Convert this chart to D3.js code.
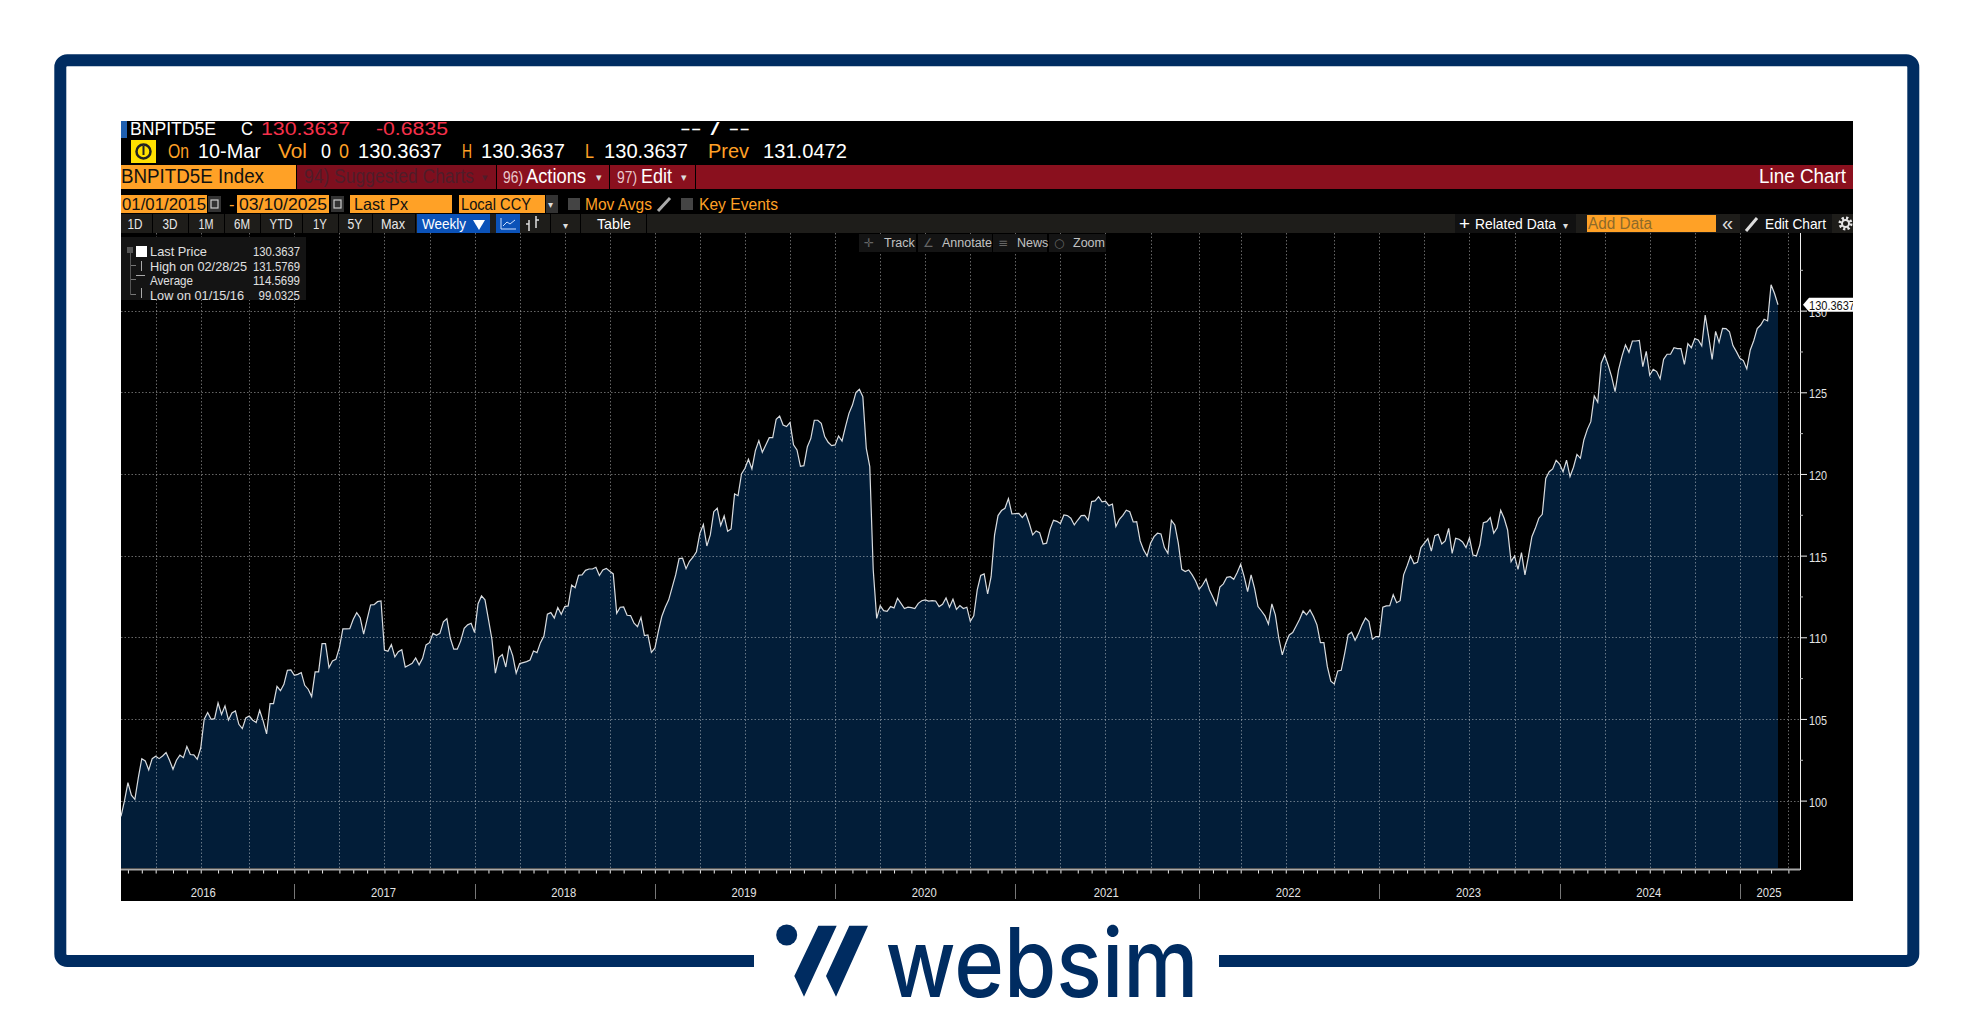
<!DOCTYPE html>
<html>
<head>
<meta charset="utf-8">
<script src="https://cdn.jsdelivr.net/npm/d3@7"></script>
<style>
  html, body { margin: 0; background: #fff; }
  svg { display: block; }
  text { font-family: "Liberation Sans", Arial, sans-serif; }
</style>
</head>
<body>
<div id="chart"></div>
<script>
// weekly Last Px, one array per axis year
var px2016 = [99.03,99.98,101.10,100.33,100.08,101.41,102.57,102.43,101.88,102.57,102.71,102.57,102.73,102.94,102.47,101.92,102.47,102.78,102.63,103.31,102.82,102.80,102.53,103.22,104.98,105.39,104.98,105.02,105.98,105.27,105.80,104.94,105.37,105.49,104.67,104.41,105.06,105.18,104.92,104.78,105.53,104.88,104.08,105.94,105.94,107.00,106.73,107.12,107.98,108.00,107.67];
var px2017 = [107.73,107.84,107.06,106.82,106.37,107.88,107.88,109.61,109.61,108.14,108.55,108.65,109.37,110.51,110.51,110.53,111.10,111.51,111.20,110.20,111.10,111.98,112.00,112.18,112.22,109.22,109.14,109.55,108.80,109.12,109.24,108.18,108.29,108.41,108.73,108.31,108.71,109.53,109.67,110.24,110.12,110.24,110.94,111.14,109.94,109.27,109.27,109.78,110.55,110.76,110.86,110.29];
var px2018 = [112.06,112.53,112.29,111.10,109.88,107.80,108.76,108.94,108.18,109.49,108.88,107.80,108.39,108.45,108.51,108.61,109.16,109.06,109.67,110.08,111.41,111.51,111.18,111.82,111.41,111.88,111.92,113.20,113.04,113.80,113.82,114.10,114.18,114.18,114.29,113.78,114.12,114.22,114.04,113.88,111.47,111.84,111.86,111.35,111.33,110.86,110.65,111.22,110.10,110.14,109.08,109.33];
var px2019 = [110.35,111.27,111.84,112.29,113.06,113.82,114.82,114.84,114.20,114.65,114.90,115.24,116.37,116.90,115.59,116.27,117.69,117.90,116.84,117.43,116.49,116.63,118.78,118.67,120.00,120.35,120.90,120.31,121.43,122.04,121.33,121.78,122.22,122.22,123.35,123.55,123.00,122.90,123.16,121.78,121.47,120.47,120.51,121.67,122.18,123.29,123.29,123.10,122.29,121.94,121.73,121.78];
var px2020 = [122.33,122.02,122.90,123.71,124.22,124.98,125.18,124.73,121.57,120.45,114.12,111.16,111.94,111.63,111.59,111.88,111.80,112.39,112.08,111.76,111.84,111.82,111.76,112.08,112.24,112.29,112.22,112.24,112.22,111.88,112.02,112.41,111.84,112.33,111.71,111.94,111.76,111.84,110.98,111.31,112.90,113.78,113.88,112.65,113.71,116.27,117.45,117.76,117.90,118.49,117.55,117.57];
var px2021 = [117.59,117.33,117.59,116.98,116.27,116.51,116.41,115.71,115.76,116.61,117.16,117.10,116.96,117.49,117.45,117.29,116.88,117.18,117.45,117.47,117.16,118.31,118.35,118.61,118.29,118.33,118.06,118.16,116.78,117.22,117.47,117.78,117.69,117.06,117.08,115.90,115.35,114.98,115.76,116.16,116.37,116.33,115.49,115.14,117.16,116.88,115.76,114.16,114.02,114.12,113.82,113.45,112.94];
var px2022 = [113.20,113.57,112.90,112.45,111.98,113.08,113.27,113.67,113.71,113.55,113.96,114.47,113.71,112.80,113.82,113.00,111.88,111.61,111.31,110.80,112.04,111.37,109.94,108.92,109.63,110.14,110.29,110.69,111.10,111.61,111.37,111.67,111.27,110.76,109.67,109.67,108.20,107.31,107.14,107.94,107.98,109.02,110.16,110.31,109.82,110.24,110.76,111.18,110.96,109.88,110.04,110.04];
var px2023 = [111.84,111.92,111.94,112.61,112.12,112.24,113.82,114.37,114.98,114.51,114.59,115.49,115.76,116.04,115.27,116.22,116.31,115.71,115.90,116.67,115.14,116.06,116.00,115.84,115.49,116.10,115.04,114.98,115.65,117.02,117.08,117.33,116.37,116.71,117.78,117.29,116.57,114.63,114.98,114.16,115.18,113.82,114.94,116.16,116.67,117.29,117.53,119.73,120.14,120.31,120.84,120.61];
var px2024 = [120.14,120.84,119.84,120.41,121.20,120.96,122.08,122.73,123.20,124.78,124.39,126.78,127.29,126.67,125.96,125.04,126.37,127.22,127.90,127.45,128.14,128.14,128.18,126.57,127.51,126.04,126.41,126.27,125.82,127.02,127.33,127.33,127.73,127.67,127.67,126.71,127.98,127.73,128.29,128.20,127.84,129.73,128.41,127.02,128.73,128.06,128.92,128.90,128.71,127.86,127.49,127.08];
var px2025 = [126.94,126.43,127.59,128.16,128.90,129.12,129.47,129.37,131.58,131.05,130.3637];
var lastPx = [].concat(px2016, px2017, px2018, px2019, px2020, px2021, px2022, px2023, px2024, px2025);

var yearLabels = ["2016","2017","2018","2019","2020","2021","2022","2023","2024","2025"];
var yTicks = [100,105,110,115,120,125,130];
var yMinorTicks = [102.5,107.5,112.5,117.5,122.5,127.5,132.5];
var rangeButtons = ["1D","3D","1M","6M","YTD","1Y","5Y","Max"];

var navy = "#002c61", orange = "#ffa126", barRed = "#8a101e";
var startDate = new Date(2016, 0, 15), lastDate = new Date(2025, 2, 10);
var plot = {left: 121, top: 233, right: 1800, bottom: 868, dataRight: 1778};

var svg = d3.select("#chart").append("svg").attr("width", 1974).attr("height", 1022);

var x = d3.scaleLinear().domain([0, lastPx.length - 1]).range([plot.left, plot.dataRight]);
var y = d3.scaleLinear().domain([100, 125]).range([800.6, 392.3]);

// the terminal's calendar ticks sit on the last weekly bar before the date
function weekIndex(date) {
  var friday = d3.timeFriday.floor(d3.timeDay.offset(date, -1));
  return Math.round((friday - startDate) / (7 * 864e5)) + (date > lastDate ? 1 : 0);
}
var quarters = d3.timeMonth.every(3).range(new Date(2016, 3, 1), new Date(2025, 4, 1)).map(weekIndex);
var months = d3.timeMonth.range(new Date(2016, 1, 1), new Date(2025, 4, 1)).map(weekIndex);
var years = d3.timeYear.range(new Date(2017, 0, 1), new Date(2026, 0, 1)).map(weekIndex);

function label(str, px, py, o) {
  o = o || {};
  var t = svg.append("text").attr("x", px).attr("y", py).text(str)
    .attr("font-size", o.size || 17)
    .attr("fill", o.color || "#fff")
    .attr("text-anchor", o.anchor || "start");
  if (o.w) t.attr("textLength", o.w).attr("lengthAdjust", "spacingAndGlyphs");
  return t;
}
function box(bx, by, w, h, color) {
  return svg.append("rect").attr("x", bx).attr("y", by).attr("width", w).attr("height", h).attr("fill", color);
}
function crisp(v) { return Math.round(v) + 0.5; }

drawFrame();
box(121, 121, 1732, 780, "#000");
drawChart();
drawHeader();
drawToolbar();
drawLegend();

function drawFrame() {
  svg.append("rect").attr("x", 60.3).attr("y", 60.3).attr("width", 1853).attr("height", 900.7)
    .attr("rx", 7).attr("fill", "none").attr("stroke", navy).attr("stroke-width", 12);
  box(754, 950, 465, 24, "#fff");
  svg.append("circle").attr("cx", 786.7).attr("cy", 935).attr("r", 10.5).attr("fill", navy);
  svg.append("path").attr("fill", navy)
    .attr("d", "M818.3,925.7L836.7,925.7L804,996.7L794.3,976ZM849.3,925.7L868,925.7L836,996.7L826,976Z");
  svg.append("text").attr("x", 885.5).attr("y", 996.7).text("websim")
    .attr("font-size", 96).attr("font-weight", 500).style("font-family", "Inter")
    .attr("fill", navy).attr("textLength", 313).attr("lengthAdjust", "spacingAndGlyphs");
}

function drawChart() {
  var area = d3.area().x(function(d, i) { return x(i); }).y0(plot.bottom).y1(function(d) { return y(d); });
  var line = d3.line().x(function(d, i) { return x(i); }).y(function(d) { return y(d); });

  svg.append("path").datum(lastPx).attr("fill", "#021d38").attr("d", area);

  svg.append("g").selectAll("line").data(quarters).join("line")
    .attr("x1", function(d) { return crisp(x(d)); }).attr("x2", function(d) { return crisp(x(d)); })
    .attr("y1", plot.top).attr("y2", plot.bottom)
    .attr("stroke", "#fff").attr("stroke-opacity", 0.4).attr("stroke-dasharray", "1.5,2");
  svg.append("g").selectAll("line").data(yTicks).join("line")
    .attr("x1", plot.left).attr("x2", plot.right)
    .attr("y1", function(d) { return crisp(y(d)); }).attr("y2", function(d) { return crisp(y(d)); })
    .attr("stroke", "#fff").attr("stroke-opacity", 0.4).attr("stroke-dasharray", "1.5,2");

  svg.append("path").datum(lastPx).attr("fill", "none").attr("stroke", "#d9dcdf")
    .attr("stroke-width", 1.2).attr("d", line);

  // bottom axis, monthly ticks
  var xAxis = svg.append("g").attr("transform", "translate(0," + (plot.bottom + 1.5) + ")")
    .call(d3.axisBottom(x).tickValues(months).tickSize(4).tickFormat(""));
  xAxis.select(".domain").remove();
  xAxis.selectAll("line").attr("stroke", "#eee");
  svg.append("line").attr("x1", plot.left).attr("x2", plot.right)
    .attr("y1", plot.bottom + 1.5).attr("y2", plot.bottom + 1.5).attr("stroke", "#a8a8a8").attr("stroke-width", 2);

  // year band under the axis
  var edges = [114].concat(years.map(function(d) { return x(d); }), [plot.right]);
  svg.append("g").selectAll("line").data(years).join("line")
    .attr("x1", function(d) { return crisp(x(d)); }).attr("x2", function(d) { return crisp(x(d)); })
    .attr("y1", 884).attr("y2", 899).attr("stroke", "#777");
  svg.append("g").selectAll("text").data(yearLabels).join("text")
    .attr("x", function(d, i) { return (edges[i] + edges[i + 1]) / 2 - 1; }).attr("y", 897)
    .attr("text-anchor", "middle").attr("font-size", 13.5).attr("fill", "#e4e4e4")
    .attr("textLength", 25).attr("lengthAdjust", "spacingAndGlyphs").text(function(d) { return d; });

  // right axis
  svg.append("line").attr("x1", plot.right + 0.5).attr("x2", plot.right + 0.5)
    .attr("y1", plot.top).attr("y2", plot.bottom + 2).attr("stroke", "#eee");
  var yAxis = svg.append("g").attr("transform", "translate(" + plot.right + ",0)")
    .call(d3.axisRight(y).tickValues(yTicks).tickSize(7).tickPadding(2).tickFormat(d3.format("d")));
  yAxis.select(".domain").remove();
  yAxis.selectAll("line").attr("stroke", "#eee");
  yAxis.selectAll("text").attr("fill", "#e4e4e4").attr("font-size", 13.5).attr("font-family", "Liberation Sans")
    .attr("dy", "0.42em").attr("textLength", 18).attr("lengthAdjust", "spacingAndGlyphs");
  var yMinor = svg.append("g").attr("transform", "translate(" + plot.right + ",0)")
    .call(d3.axisRight(y).tickValues(yMinorTicks).tickSize(3).tickFormat(""));
  yMinor.select(".domain").remove();
  yMinor.selectAll("line").attr("stroke", "#bbb");

  // last value flag, runs off the edge of the screenshot
  var lastY = y(lastPx[lastPx.length - 1]);
  svg.append("clipPath").attr("id", "flag-clip").append("rect")
    .attr("x", plot.right).attr("y", lastY - 12).attr("width", 53).attr("height", 24);
  var flag = svg.append("g").attr("clip-path", "url(#flag-clip)");
  flag.append("path").attr("fill", "#fff")
    .attr("d", d3.line()([[plot.right + 3, lastY], [plot.right + 9, lastY - 7], [plot.right + 60, lastY - 7], [plot.right + 60, lastY + 7], [plot.right + 9, lastY + 7]]) + "Z");
  flag.append("text").attr("x", plot.right + 9).attr("y", lastY + 5).attr("font-size", 13.5)
    .attr("fill", "#111").attr("textLength", 46).attr("lengthAdjust", "spacingAndGlyphs")
    .text(d3.format(".4f")(lastPx[lastPx.length - 1]));
}

function drawHeader() {
  box(121, 121, 6, 17, "#1e5fb0");
  label("BNPITD5E", 130, 135, {size: 18, w: 86});
  label("C", 241, 135, {size: 18, w: 12});
  label("130.3637", 261, 135, {size: 18, w: 89, color: "#f5304a"});
  label("-0.6835", 376, 135, {size: 18, w: 72, color: "#f5304a"});
  label("-- / --", 680, 135, {size: 18, w: 70});

  box(131, 140, 25, 23, "#ffe000");
  svg.append("circle").attr("cx", 143.5).attr("cy", 151.5).attr("r", 7).attr("fill", "none").attr("stroke", "#222").attr("stroke-width", 2.5);
  box(142.5, 146, 2, 9, "#222");

  label("On", 168, 158, {size: 19.5, w: 21, color: orange});
  label("10-Mar", 198, 158, {size: 19.5, w: 63});
  label("Vol", 278, 158, {size: 19.5, w: 29, color: orange});
  label("0", 321, 158, {size: 19.5, w: 10});
  label("0", 339, 158, {size: 19.5, w: 10, color: orange});
  label("130.3637", 358, 158, {size: 19.5, w: 84});
  label("H", 462, 158, {size: 19.5, w: 10, color: orange});
  label("130.3637", 481, 158, {size: 19.5, w: 84});
  label("L", 585, 158, {size: 19.5, w: 9, color: orange});
  label("130.3637", 604, 158, {size: 19.5, w: 84});
  label("Prev", 708, 158, {size: 19.5, w: 41, color: orange});
  label("131.0472", 763, 158, {size: 19.5, w: 84});

  // red command bar
  box(121, 165, 1732, 24, barRed);
  box(121, 165, 175, 24, orange);
  label("BNPITD5E Index", 121, 183, {size: 19.5, w: 143, color: "#111"});
  box(296, 165, 1, 24, "#000");
  box(297, 165, 199, 24, "#7e0f1e");
  label("94) Suggested Charts", 304, 183, {size: 19.5, w: 170, color: "#501d2a"});
  label("▾", 482, 181, {size: 11, color: "#501d2a"});
  box(496, 165, 1, 24, "#000");
  label("96)", 503, 183, {size: 17, w: 20, color: "#e9c9cc"});
  label("Actions", 526, 183, {size: 19.5, w: 60});
  label("▾", 596, 181, {size: 11, color: "#ddd"});
  box(609, 165, 1, 24, "#000");
  label("97)", 617, 183, {size: 17, w: 20, color: "#e9c9cc"});
  label("Edit", 641, 183, {size: 19.5, w: 31});
  label("▾", 681, 181, {size: 11, color: "#ddd"});
  box(695, 165, 1, 24, "#000");
  label("Line Chart", 1759, 183, {size: 19.5, w: 87});

  // date row
  box(121, 195, 86, 18, orange);
  label("01/01/2015", 122, 210, {size: 16.5, w: 84, color: "#111"});
  calendarIcon(208);
  label("-", 229, 210, {size: 16.5, color: orange});
  box(237, 195, 92, 18, orange);
  label("03/10/2025", 239, 210, {size: 16.5, w: 88, color: "#111"});
  calendarIcon(331);
  box(350, 195, 102, 18, orange);
  label("Last Px", 354, 210, {size: 16.5, w: 54, color: "#111"});
  box(459, 195, 86, 18, orange);
  label("Local CCY", 461, 210, {size: 16.5, w: 70, color: "#111"});
  box(546, 195, 12, 18, "#333");
  label("▾", 548, 208, {size: 10, color: "#ddd"});
  box(568, 198, 12, 12, "#444");
  label("Mov Avgs", 585, 210, {size: 16.5, w: 67, color: orange});
  svg.append("path").attr("d", "M658,211L670,198").attr("stroke", "#aaa").attr("stroke-width", 3);
  box(681, 198, 12, 12, "#444");
  label("Key Events", 699, 210, {size: 16.5, w: 79, color: orange});
}

function calendarIcon(cx) {
  box(cx, 196, 13, 16, "#333");
  svg.append("rect").attr("x", cx + 3).attr("y", 200).attr("width", 7).attr("height", 8)
    .attr("fill", "none").attr("stroke", "#ccc").attr("stroke-width", 1.2);
}

function drawToolbar() {
  box(121, 214, 1732, 19, "#1e1d1a");
  var centers = [135, 170, 206, 242, 281, 320, 355, 393];
  var widths = [15, 15, 15, 16, 23, 14, 15, 24];
  var seps = [152, 188, 224, 260, 302, 338, 372, 415];
  rangeButtons.forEach(function(b, i) {
    label(b, centers[i], 229, {size: 14.5, anchor: "middle", color: "#e8e8e8", w: widths[i]});
    box(seps[i], 214, 1, 19, "#000");
  });
  box(417, 214, 73, 19, "#0b52b8");
  label("Weekly", 422, 229, {size: 14.5, w: 44});
  svg.append("path").attr("fill", "#fff").attr("d", "M473,220L485,220L479,230Z");
  box(496, 214, 24, 19, "#0b52b8");
  svg.append("path").attr("fill", "none").attr("stroke", "#cfe0ff")
    .attr("d", "M501,218L501,229L516,229M503,226L507,222L510,224L515,220");
  svg.append("path").attr("fill", "none").attr("stroke", "#ddd").attr("stroke-width", 1.5)
    .attr("d", "M529,220L529,231M526,224L529,224M536,216L536,228M536,220L539,220");
  box(550, 214, 1, 19, "#000");
  label("▾", 563, 229, {size: 10, color: "#ddd"});
  box(580, 214, 1, 19, "#000");
  label("Table", 614, 229, {size: 14.5, anchor: "middle", w: 34});
  box(646, 214, 1, 19, "#000");

  // right hand controls
  box(1455, 214, 121, 19, "#111");
  label("+", 1459, 230, {size: 18, w: 11});
  label("Related Data", 1475, 229, {size: 14.5, w: 81});
  label("▾", 1563, 229, {size: 10, color: "#ddd"});
  box(1587, 215, 129, 17, orange);
  label("Add Data", 1588, 229, {size: 16, w: 64, color: "#8d6a2a"});
  label("«", 1722, 230, {size: 20, color: "#ddd"});
  box(1740, 214, 92, 19, "#111");
  svg.append("path").attr("d", "M1746,231L1757,218").attr("stroke", "#ddd").attr("stroke-width", 3);
  label("Edit Chart", 1765, 229, {size: 14.5, w: 61});
  svg.append("circle").attr("cx", 1845.5).attr("cy", 223.5).attr("r", 5.5).attr("fill", "none")
    .attr("stroke", "#e4e4e4").attr("stroke-width", 3).attr("stroke-dasharray", "2.2,2.1");
  svg.append("circle").attr("cx", 1845.5).attr("cy", 223.5).attr("r", 3.5).attr("fill", "none")
    .attr("stroke", "#e4e4e4").attr("stroke-width", 2);

  // tools floating at the top of the plot
  var tools = [["Track", 859, 57, 884, "✛"], ["Annotate", 918, 74, 942, "∠"], ["News", 993, 54, 1017, "≡"], ["Zoom", 1049, 57, 1073, "○"]];
  tools.forEach(function(t) {
    box(t[1], 234, t[2], 18, "#141414");
    label(t[0], t[3], 247, {size: 12.5, color: "#c2c2c2"});
    label(t[4], t[1] + 5, 247, {size: 12, color: "#666"}).style("font-family", "DejaVu Sans");
  });
}

function drawLegend() {
  box(121, 237, 185, 63, "#141414");
  box(136, 246, 11, 11, "#fff");
  var rows = [
    ["Last Price", "130.3637", 256, 57, 47],
    ["High on 02/28/25", "131.5769", 271, 97, 47],
    ["Average", "114.5699", 285, 43, 47],
    ["Low on 01/15/16", "99.0325", 300, 94, 41.5]
  ];
  rows.forEach(function(r, i) {
    label(r[0], 150, r[2], {size: 13.5, color: "#e0e0e0", w: r[3]});
    label(r[1], 300 - r[4], r[2], {size: 13.5, color: "#e0e0e0", w: r[4]});
    if (i > 0) box(131, r[2] - 6, 5, 1, "#777");
  });
  box(130, 252, 1, 43, "#555");
  box(127, 247, 6, 6, "#555");
  box(141, 261, 1, 10, "#aaa");
  box(136, 275, 9, 1, "#aaa");
  box(141, 288, 1, 10, "#aaa");
}
</script>
</body>
</html>
